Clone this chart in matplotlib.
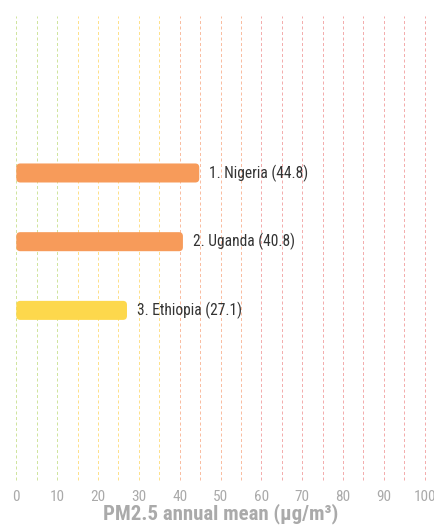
import matplotlib
matplotlib.use("Agg")
import matplotlib.pyplot as plt
from matplotlib.patches import FancyBboxPatch

countries = ["Nigeria", "Uganda", "Ethiopia"]
pm25 = [44.8, 40.8, 27.1]
bar_colors = ["#f79b5a", "#f79b5a", "#fdd84c"]

grid_values = list(range(0, 101, 5))
# colour band for each reference line, by concentration
band_edges = [(10, "#bcd977"), (35, "#fdd35c"), (55, "#f7a27a"), (100, "#ee8a8a")]
tick_values = list(range(0, 101, 10))
xlabel = "PM2.5 annual mean (µg/m³)"

W, H = 435, 527
fig = plt.figure(figsize=(W / 100, H / 100), dpi=100)
left_px, right_px, top_px, bottom_px = 16.3, 424.7, 16, 480
ax = fig.add_axes([left_px / W, 1 - bottom_px / H,
                   (right_px - left_px) / W, (bottom_px - top_px) / H])

font = ["Roboto Condensed", "Roboto", "DejaVu Sans"]

ax.set_xlim(0, 100)
ax.set_ylim(4.469, -2.285)

def band_color(v):
    for edge, c in band_edges:
        if v <= edge:
            return c
    return band_edges[-1][1]

for v in grid_values:
    ax.axvline(v, color=band_color(v), lw=0.72, linestyle=(0, (3, 2.5)),
               alpha=0.7, zorder=0, clip_on=False)

# rounded bars
px_per_x = (right_px - left_px) / 100
px_per_y = 68.7
radius_px = 4
bar_h = 0.277
for i, (name, val, col) in enumerate(zip(countries, pm25, bar_colors)):
    r_x = radius_px / px_per_x
    aspect = (radius_px / px_per_y) / r_x
    patch = FancyBboxPatch((0, i - bar_h / 2), val, bar_h,
                           boxstyle=f"round,pad=0,rounding_size={r_x}",
                           mutation_aspect=aspect, facecolor=col,
                           edgecolor="none", zorder=2)
    ax.add_patch(patch)
    ax.annotate(f"{i + 1}. {name} ({val})", xy=(val, i),
                xytext=(7.2, 0), textcoords="offset points",
                va="center", ha="left", fontsize=11.2, color="#333333",
                family=font, zorder=3)

ax.set_xticks(tick_values)
ax.set_xticklabels([str(t) for t in tick_values], family=font,
                   fontsize=11, color="#aaaaaa")
ax.tick_params(axis="x", length=0, pad=7)
ax.set_yticks([])
for s in ax.spines.values():
    s.set_visible(False)

ax.set_xlabel(xlabel, family=font, fontsize=15, fontweight="bold",
              color="#aaaaaa", labelpad=0)

fig.savefig("out.png", dpi=100)
